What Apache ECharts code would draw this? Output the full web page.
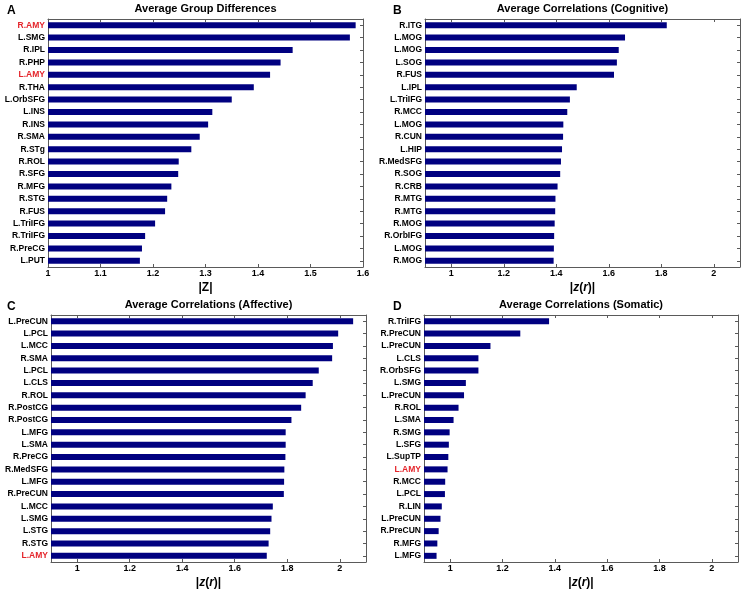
<!DOCTYPE html>
<html>
<head>
<meta charset="utf-8">
<script src="https://cdn.jsdelivr.net/npm/echarts@6/dist/echarts.min.js"></script>
<style>html,body{margin:0;padding:0;background:#fff}#c{width:743px;height:590px}</style>
</head>
<body>
<div id="c"></div>
<script>
// ---- Data ----
const catsA = ["R.AMY","L.SMG","R.IPL","R.PHP","L.AMY","R.THA","L.OrbSFG","L.INS","R.INS","R.SMA","R.STg","R.ROL","R.SFG","R.MFG","R.STG","R.FUS","L.TriIFG","R.TriIFG","R.PreCG","L.PUT"];
const valsA = [1.586,1.575,1.466,1.443,1.423,1.392,1.350,1.313,1.305,1.289,1.273,1.249,1.248,1.235,1.227,1.223,1.204,1.185,1.179,1.175];

const catsB = ["R.ITG","L.MOG","L.MOG","L.SOG","R.FUS","L.IPL","L.TriIFG","R.MCC","L.MOG","R.CUN","L.HIP","R.MedSFG","R.SOG","R.CRB","R.MTG","R.MTG","R.MOG","R.OrbIFG","L.MOG","R.MOG"];
const valsB = [1.821,1.662,1.638,1.631,1.620,1.478,1.452,1.442,1.427,1.426,1.422,1.418,1.415,1.405,1.397,1.396,1.394,1.392,1.391,1.390];

const catsC = ["L.PreCUN","L.PCL","L.MCC","R.SMA","L.PCL","L.CLS","R.ROL","R.PostCG","R.PostCG","L.MFG","L.SMA","R.PreCG","R.MedSFG","L.MFG","R.PreCUN","L.MCC","L.SMG","L.STG","R.STG","L.AMY"];
const valsC = [2.051,1.994,1.974,1.971,1.920,1.897,1.870,1.853,1.816,1.794,1.794,1.793,1.789,1.788,1.787,1.745,1.740,1.735,1.729,1.722];

const catsD = ["R.TriIFG","R.PreCUN","L.PreCUN","L.CLS","R.OrbSFG","L.SMG","L.PreCUN","R.ROL","L.SMA","R.SMG","L.SFG","L.SupTP","L.AMY","R.MCC","L.PCL","R.LIN","L.PreCUN","R.PreCUN","R.MFG","L.MFG"];
const valsD = [1.378,1.268,1.154,1.108,1.108,1.060,1.053,1.032,1.013,0.998,0.995,0.993,0.990,0.981,0.980,0.968,0.963,0.956,0.951,0.948];

const ticksA = [1,1.1,1.2,1.3,1.4,1.5,1.6];
const ticksZ = [1,1.2,1.4,1.6,1.8,2];

const redLabels = ["R.AMY","L.AMY"];

const titles = ["Average Group Differences","Average Correlations (Cognitive)","Average Correlations (Affective)","Average Correlations (Somatic)"];
const letters = ["A","B","C","D"];

// ---- Layout ----
const FONT = '"Liberation Sans", Arial, Helvetica, sans-serif';
const AX = '#5a5a5a';
const BAR = '#000080';
const RED = '#e4252b';

const panels = [
  {cats: catsA, vals: valsA, min: 1, max: 1.6, ticks: ticksA, grid: {left: 48, top: 19, width: 315, height: 248}, name: 'Z'},
  {cats: catsB, vals: valsB, min: 0.9, max: 2.1, ticks: ticksZ, grid: {left: 425, top: 19, width: 315, height: 248}, name: 'zr'},
  {cats: catsC, vals: valsC, min: 0.9, max: 2.1, ticks: ticksZ, grid: {left: 51, top: 315, width: 315, height: 248}, name: 'zr'},
  {cats: catsD, vals: valsD, min: 0.9, max: 2.1, ticks: ticksZ, grid: {left: 424, top: 315, width: 314, height: 248}, name: 'zr'}
];

const grid = [], xAxis = [], yAxis = [], series = [], graphic = [];

panels.forEach((p, i) => {
  grid.push(Object.assign({containLabel: false}, p.grid));
  const nameRich = {
    n: {fontFamily: FONT, fontSize: 12, fontWeight: 'bold', color: '#000'},
    it: {fontFamily: FONT, fontSize: 12, fontWeight: 'bold', fontStyle: 'italic', color: '#000'}
  };
  const axisName = p.name === 'Z' ? '{n||}{n|Z}{n||}' : '{n||}{it|z}{n|(}{it|r}{n|)}{n||}';
  // bottom value axis
  xAxis.push({
    type: 'value', gridIndex: i, position: 'bottom', min: p.min, max: p.max,
    name: axisName, nameLocation: 'middle', nameGap: 15,
    nameTextStyle: {rich: nameRich},
    axisLine: {show: true, lineStyle: {color: AX, width: 1}},
    axisTick: {show: true, inside: true, length: 3, lineStyle: {color: AX}, customValues: p.ticks},
    axisLabel: {show: true, margin: 2, fontFamily: FONT, fontSize: 9, fontWeight: 'bold', color: '#000', customValues: p.ticks,
      formatter: v => String(Math.round(v * 10) / 10)},
    splitLine: {show: false}
  });
  // top value axis (box + ticks)
  xAxis.push({
    type: 'value', gridIndex: i, position: 'top', min: p.min, max: p.max,
    axisLine: {show: true, onZero: false, lineStyle: {color: AX, width: 1}},
    axisTick: {show: true, inside: true, length: 3, lineStyle: {color: AX}, customValues: p.ticks},
    axisLabel: {show: false},
    splitLine: {show: false}
  });
  // left category axis
  yAxis.push({
    type: 'category', gridIndex: i, position: 'left', inverse: true, data: p.cats,
    axisLine: {show: true, onZero: false, lineStyle: {color: AX, width: 1}},
    axisTick: {show: true, inside: true, length: 3, alignWithLabel: true, lineStyle: {color: AX}},
    axisLabel: {show: true, interval: 0, margin: 3, fontFamily: FONT, fontSize: 8.5, fontWeight: 'bold',
      color: (v) => redLabels.indexOf(v) >= 0 ? RED : '#000'},
    splitLine: {show: false}
  });
  // right category axis
  yAxis.push({
    type: 'category', gridIndex: i, position: 'right', inverse: true, data: p.cats,
    axisLine: {show: true, onZero: false, lineStyle: {color: AX, width: 1}},
    axisTick: {show: true, inside: true, length: 3, alignWithLabel: true, interval: 0, lineStyle: {color: AX}},
    axisLabel: {show: false},
    splitLine: {show: false}
  });
  series.push({
    type: 'bar', xAxisIndex: 2 * i, yAxisIndex: 2 * i, data: p.vals,
    barWidth: 6, itemStyle: {color: BAR}, clip: true, silent: true, animation: false
  });
  // title
  graphic.push({
    type: 'text', left: p.grid.left + p.grid.width / 2, top: p.grid.top - 16,
    style: {text: titles[i], font: 'bold 11px ' + FONT, fill: '#000', textAlign: 'center'}
  });
  graphic.push({
    type: 'text', left: (i % 2 === 0) ? 7 : 393, top: p.grid.top - 14,
    style: {text: letters[i], font: 'bold 12px ' + FONT, fill: '#000'}
  });
});

const chart = echarts.init(document.getElementById('c'), null, {renderer: 'canvas'});
chart.setOption({
  animation: false,
  backgroundColor: '#fff',
  grid, xAxis, yAxis, series,
  graphic: graphic.map(g => { const c = Object.assign({}, g); c.x = g.left; c.y = g.top; delete c.left; delete c.top; return c; })
});
</script>
</body>
</html>
